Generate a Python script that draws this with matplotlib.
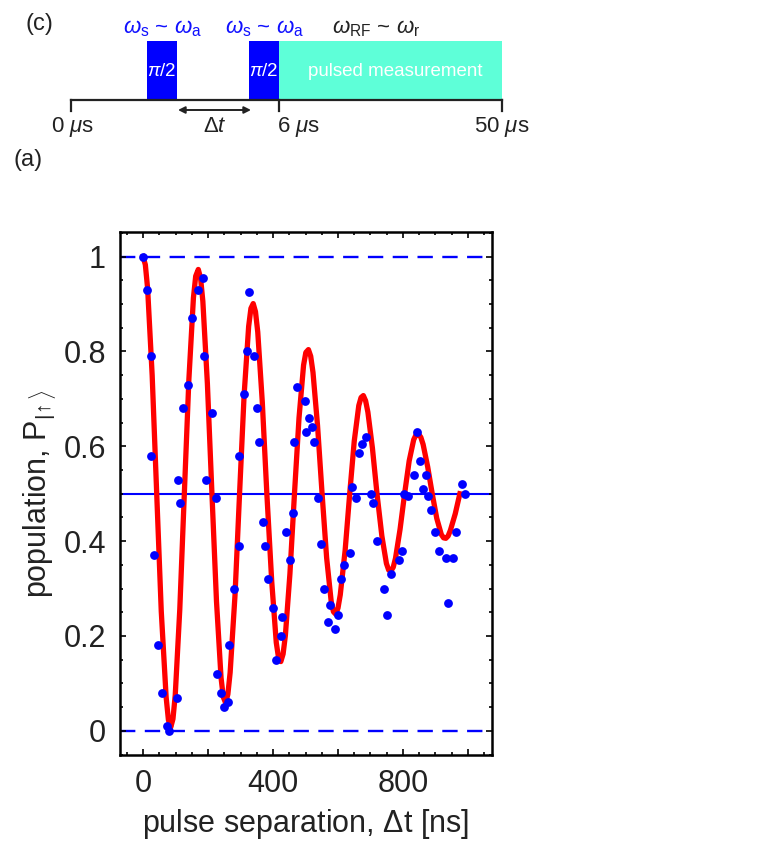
import matplotlib.pyplot as plt
from matplotlib.ticker import MultipleLocator, FixedLocator, FixedFormatter

plt.rcParams['font.family'] = ['Liberation Sans', 'DejaVu Sans']
plt.rcParams['mathtext.fontset'] = 'custom'
plt.rcParams['mathtext.rm'] = 'Liberation Sans'
plt.rcParams['mathtext.it'] = 'Liberation Sans:italic'

# measured populations (blue dots)
t_data = [0, 11, 24, 24, 35, 47, 57, 73, 81, 104, 109, 114, 124, 139, 150, 170,
          186, 188, 194, 213, 225, 227, 239, 250, 262, 264, 280, 294, 295, 312,
          319, 327, 342, 350, 357, 370, 375, 384, 399, 408, 425, 429, 440, 452,
          461, 466, 475, 498, 500, 511, 520, 527, 538, 548, 558, 570, 575, 591,
          601, 608, 618, 637, 642, 654, 666, 673, 687, 702, 709, 720, 742, 750,
          764, 788, 796, 803, 816, 835, 843, 852, 862, 870, 876, 886, 900, 912,
          931, 939, 953, 962, 983, 992]
p_data = [1.00, 0.93, 0.79, 0.58, 0.37, 0.18, 0.08, 0.01, 0.00, 0.07, 0.53, 0.48,
          0.68, 0.73, 0.87, 0.93, 0.955, 0.79, 0.53, 0.67, 0.49, 0.12, 0.08, 0.05,
          0.06, 0.18, 0.30, 0.39, 0.58, 0.71, 0.80, 0.925, 0.79, 0.68, 0.61, 0.44,
          0.39, 0.32, 0.26, 0.15, 0.20, 0.24, 0.42, 0.36, 0.46, 0.61, 0.725, 0.695,
          0.63, 0.66, 0.64, 0.61, 0.49, 0.395, 0.30, 0.23, 0.265, 0.215, 0.245,
          0.32, 0.35, 0.375, 0.515, 0.49, 0.585, 0.605, 0.62, 0.50, 0.48, 0.40,
          0.30, 0.245, 0.33, 0.36, 0.38, 0.50, 0.495, 0.54, 0.63, 0.57, 0.51, 0.54,
          0.495, 0.465, 0.42, 0.38, 0.365, 0.27, 0.365, 0.42, 0.52, 0.50]

# fitted curve (red)
t_fit = [0, 7, 14, 28, 42, 56, 71, 78, 85, 92, 99, 113, 127, 141, 155, 162, 170,
         177, 184, 198, 212, 226, 240, 247, 254, 261, 268, 283, 297, 311, 325,
         332, 339, 346, 353, 367, 381, 396, 410, 417, 424, 431, 438, 452, 466,
         480, 494, 501, 509, 516, 523, 537, 551, 565, 579, 586, 593, 600, 607,
         622, 636, 650, 664, 671, 678, 685, 692, 706, 720, 735, 749, 756, 763,
         770, 777, 791, 805, 819, 833, 840, 848, 855, 862, 876, 890, 904, 918,
         925, 932, 939, 946, 961, 975]
p_fit = [1.000, 0.983, 0.933, 0.750, 0.500, 0.252, 0.071, 0.023, 0.007, 0.025,
         0.075, 0.256, 0.500, 0.741, 0.913, 0.959, 0.973, 0.955, 0.906, 0.732,
         0.500, 0.273, 0.112, 0.071, 0.059, 0.077, 0.123, 0.286, 0.500, 0.708,
         0.853, 0.891, 0.901, 0.884, 0.841, 0.693, 0.500, 0.315, 0.186, 0.154,
         0.146, 0.162, 0.201, 0.331, 0.500, 0.660, 0.771, 0.798, 0.804, 0.790,
         0.756, 0.644, 0.500, 0.365, 0.273, 0.251, 0.246, 0.259, 0.287, 0.381,
         0.500, 0.611, 0.686, 0.703, 0.707, 0.696, 0.672, 0.596, 0.500, 0.411,
         0.353, 0.339, 0.337, 0.345, 0.364, 0.425, 0.500, 0.569, 0.614, 0.624,
         0.626, 0.619, 0.604, 0.557, 0.500, 0.448, 0.414, 0.407, 0.406, 0.411,
         0.423, 0.458, 0.500]

y_ticks = [0, 0.2, 0.4, 0.6, 0.8, 1]
y_labels = ['0', '0.2', '0.4', '0.6', '0.8', '1']
x_labels = ['0', '', '400', '', '800', '']

# pulse sequence sketch (schematic, drawn in pixel units of the top strip)
pulse_left = [147, 249]
pulse_width = 30
meas_span = (279, 502)
time_ticks = [70.7, 279, 502]
time_labels = ['0 $\\mu$s', '6 $\\mu$s', '50 $\\mu$s']

W, H = 764, 842
fig = plt.figure(figsize=(W / 100, H / 100), dpi=100)

# ---- top sketch ----
top_h = 145
sk = fig.add_axes([0, 1 - top_h / H, 1, top_h / H])
sk.set_xlim(0, W)
sk.set_ylim(top_h, 0)
sk.axis('off')
for xl in pulse_left:
    sk.add_patch(plt.Rectangle((xl, 41), pulse_width, 59, color='#0000ff', lw=0))
    sk.text(xl + pulse_width / 2, 72, r'$\pi$/2', color='white', fontsize=13.5,
            ha='center', va='center')
    sk.text(xl + pulse_width / 2, 29, r'$\omega_{\rm s}$ ~ $\omega_{\rm a}$',
            color='#1010ff', fontsize=16, ha='center', va='center')
sk.add_patch(plt.Rectangle((meas_span[0], 41), meas_span[1] - meas_span[0], 59,
                           color='#5effd8', lw=0))
sk.text(395, 72, 'pulsed measurement', color='white', fontsize=13.5,
        ha='center', va='center')
sk.text(376, 29, r'$\omega_{\rm RF}$ ~ $\omega_{\rm r}$', color='#222222',
        fontsize=16, ha='center', va='center')
sk.plot([time_ticks[0], time_ticks[-1]], [100, 100], color='#222222', lw=1.6)
for xt in time_ticks:
    sk.plot([xt, xt], [100, 111], color='#222222', lw=1.6)
sk.text(time_ticks[0] + 2, 127, time_labels[0], fontsize=16, ha='center', va='center', color='#222222')
sk.text(time_ticks[1] - 2, 127, time_labels[1], fontsize=16, ha='left', va='center', color='#222222')
sk.text(time_ticks[2], 127, time_labels[2], fontsize=16, ha='center', va='center', color='#222222')
sk.annotate('', xy=(178, 110), xytext=(251, 110),
            arrowprops=dict(arrowstyle='<|-|>', color='#222222', lw=1.4,
                            mutation_scale=10, shrinkA=0, shrinkB=0))
sk.text(215, 126, r'$\Delta t$', fontsize=16, ha='center', va='center', color='#222222')
sk.text(39, 24, '(c)', fontsize=17, ha='center', va='center', color='#222222')

fig.text(28 / W, 1 - 160 / H, '(a)', fontsize=17, ha='center', va='center', color='#222222')

# ---- main plot ----
ax = fig.add_axes([120 / W, 87 / H, 372 / W, 523 / H])
ax.axhline(1, color='#0000ff', lw=1.7, ls=(0, (6.5, 4)), zorder=1)
ax.axhline(0, color='#0000ff', lw=1.7, ls=(0, (6.5, 4)), zorder=1)
ax.axhline(0.5, color='#0000ff', lw=1.5, zorder=1)
ax.plot(t_fit, p_fit, color='#ff0000', lw=3.8, solid_joinstyle='round', zorder=2)
ax.scatter(t_data, p_data, s=40, color='#0000ff', lw=0, zorder=3)

ax.set_xlim(-71, 1074)
ax.set_ylim(-0.051, 1.052)
ax.xaxis.set_major_locator(FixedLocator([0, 200, 400, 600, 800, 1000]))
ax.xaxis.set_major_formatter(FixedFormatter(x_labels))
ax.xaxis.set_minor_locator(MultipleLocator(50))
ax.yaxis.set_major_locator(FixedLocator(y_ticks))
ax.yaxis.set_major_formatter(FixedFormatter(y_labels))
ax.yaxis.set_minor_locator(MultipleLocator(0.05))
ax.tick_params(which='both', direction='in', top=True, right=True,
               labelsize=22, labelcolor='#222222', width=1.2)
ax.tick_params(which='major', length=4, pad=10)
ax.tick_params(which='minor', length=2.5)
for sp in ax.spines.values():
    sp.set_linewidth(1.8)
ax.set_xlabel(r'pulse separation, $\Delta$t [ns]', fontsize=22, color='#222222', labelpad=6)
ax.set_ylabel(r'population, P$_{|\!\uparrow\rangle}$', fontsize=22, color='#222222', labelpad=3)

fig.savefig('out.png', dpi=100)
